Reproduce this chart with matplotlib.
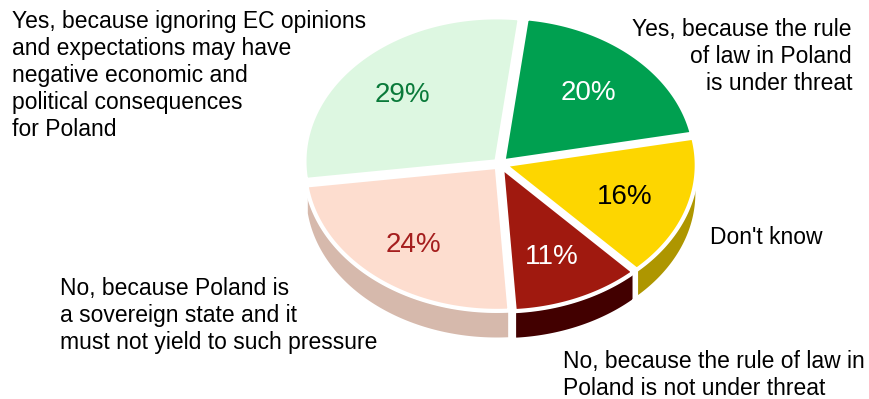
import numpy as np
import matplotlib
matplotlib.use("Agg")
import matplotlib.pyplot as plt
from matplotlib.patches import Polygon

plt.rcParams['font.family'] = ['Liberation Sans', 'DejaVu Sans']

# ---- data ----
categories = [
    "Yes, because the rule\nof law in Poland\nis under threat",
    "Don't know",
    "No, because the rule of law in\nPoland is not under threat",
    "No, because Poland is\na sovereign state and it\nmust not yield to such pressure",
    "Yes, because ignoring EC opinions\nand expectations may have\nnegative economic and\npolitical consequences\nfor Poland",
]
values = [20, 16, 11, 24, 29]
pct_labels = ["20%", "16%", "11%", "24%", "29%"]

top_colors = ["#00A050", "#FDD600", "#A0190F", "#FDDDCF", "#DDF7E1"]
side_colors = ["#007038", "#AE9600", "#420000", "#D6B9AC", "#B0C8B2"]
pct_colors = ["white", "black", "white", "#A51E1E", "#0A7A3A"]

# ---- geometry (pixel space) ----
W, H = 869, 399
cx, cy = 500, 164
rx, ry = 192, 144
depth = 28
explode = 5
start = 83

fig = plt.figure(figsize=(W / 100, H / 100), dpi=100)
ax = fig.add_axes([0, 0, 1, 1])
ax.set_xlim(0, W)
ax.set_ylim(H, 0)
ax.axis('off')

total = float(sum(values))
angles = []
a = start
for v in values:
    b = a - v / total * 360.0
    angles.append((b, a))
    a = b


def pt(t, ox, oy, dz=0.0, r=1.0):
    tr = np.radians(t)
    return cx + ox + r * rx * np.cos(tr), cy + oy - r * ry * np.sin(tr) + dz


def lower_parts(a, b):
    parts = []
    for k in range(-2, 3):
        lo, hi = -180 + 360 * k, 0 + 360 * k
        s, e = max(a, lo), min(b, hi)
        if e - s > 8:
            parts.append((s, e))
    return parts


offsets = []
for (a, b) in angles:
    m = np.radians((a + b) / 2)
    offsets.append((explode * np.cos(m), -explode * np.sin(m) * ry / rx))

# sides
for i, (a, b) in enumerate(angles):
    ox, oy = offsets[i]
    for (s, e) in lower_parts(a, b):
        ts = np.linspace(s, e, 80)
        xs, ys = pt(ts, ox, oy)
        top = np.column_stack([xs, ys])
        bot = np.column_stack([xs, ys + depth])[::-1]
        ax.add_patch(Polygon(np.vstack([top, bot]), closed=True,
                             facecolor=side_colors[i], edgecolor='white',
                             linewidth=2.0, zorder=1))

# tops
for i, (a, b) in enumerate(angles):
    ox, oy = offsets[i]
    ts = np.linspace(b, a, 150)
    xs, ys = pt(ts, ox, oy)
    poly = np.vstack([[cx + ox, cy + oy], np.column_stack([xs, ys])])
    ax.add_patch(Polygon(poly, closed=True, facecolor=top_colors[i],
                         edgecolor='white', linewidth=3.0, zorder=2))

# percentage labels
pct_pos = [(588, 93), (625, 197), (552, 257), (413, 245), (402, 95)]
for i, p in enumerate(pct_labels):
    ax.text(pct_pos[i][0], pct_pos[i][1], p, color=pct_colors[i], fontsize=20,
            ha='center', va='center', zorder=3)

# category labels
lab_fs = 16.5
ls = 1.22
ax.text(852, 18, categories[0], ha='right', va='top', fontsize=lab_fs,
        linespacing=ls, multialignment='right')
ax.text(710, 238, categories[1], ha='left', va='center', fontsize=lab_fs)
ax.text(563, 350, categories[2], ha='left', va='top', fontsize=lab_fs,
        linespacing=ls)
ax.text(60, 277, categories[3], ha='left', va='top', fontsize=lab_fs,
        linespacing=ls)
ax.text(12, 10, categories[4], ha='left', va='top', fontsize=lab_fs,
        linespacing=ls)

fig.savefig("out.png", dpi=100)
